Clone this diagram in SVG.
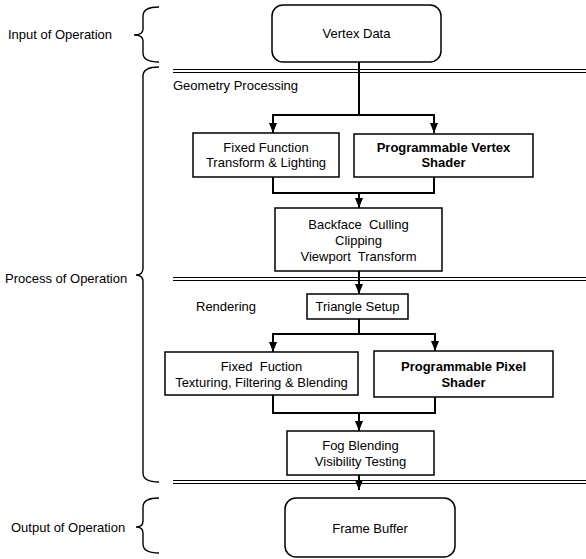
<svg xmlns="http://www.w3.org/2000/svg" width="586" height="559" viewBox="0 0 586 559">
<defs>
<marker id="ah" markerUnits="userSpaceOnUse" markerWidth="10" markerHeight="10" refX="10" refY="4" orient="auto">
<path d="M0,0 L10,4 L0,8 Z" fill="#000"/>
</marker>
<style>
text{font-family:"Liberation Sans",Arial,sans-serif;font-size:13px;fill:#000}
.b{font-weight:bold}
.c{text-anchor:middle}
.box{fill:#fff;stroke:#000;stroke-width:1.5}
.conn{fill:none;stroke:#000;stroke-width:2}
.sep{stroke:#000;stroke-width:1;fill:none}
.brace{fill:none;stroke:#000;stroke-width:1.4}
</style>
</defs>
<rect width="586" height="559" fill="#fff"/>

<g id="separators">
<line class="sep" x1="173" y1="69.5" x2="586" y2="69.5"/>
<line class="sep" x1="173" y1="72.5" x2="586" y2="72.5"/>
<line class="sep" x1="173" y1="277.5" x2="586" y2="277.5"/>
<line class="sep" x1="173" y1="280.5" x2="586" y2="280.5"/>
<line class="sep" x1="173" y1="480.5" x2="586" y2="480.5"/>
<line class="sep" x1="173" y1="483.5" x2="586" y2="483.5"/>
</g>

<g id="brackets">
<path class="brace" d="M159,7 Q143,7 143,16 L143,29 Q143,35 134,35 Q143,35 143,41 L143,53 Q143,62 159,62"/>
<path class="brace" d="M159,67 Q143,67 143,76 L143,268 Q143,275 136,275 Q143,275 143,282 L143,473 Q143,482 159,482"/>
<path class="brace" d="M159,498 Q143,498 143,507 L143,521 Q143,527 136,527 Q143,527 143,533 L143,544 Q143,553 159,553"/>
<text x="8" y="39">Input of Operation</text>
<text x="5" y="283">Process of Operation</text>
<text x="11" y="532">Output of Operation</text>
<text x="173" y="90">Geometry Processing</text>
<text x="196" y="311">Rendering</text>
</g>

<g id="connectors">
<path class="conn" d="M359,62 V115"/>
<path class="conn" d="M273,115 H434"/>
<path class="conn" d="M273,114 V133" marker-end="url(#ah)"/>
<path class="conn" d="M434,114 V133" marker-end="url(#ah)"/>
<path class="conn" d="M273,177 V193 H434 V177"/>
<path class="conn" d="M359,193 V208" marker-end="url(#ah)"/>
<path class="conn" d="M359,271 V294" marker-end="url(#ah)"/>
<path class="conn" d="M359,319 V334"/>
<path class="conn" d="M273,334 H435"/>
<path class="conn" d="M273,333 V352" marker-end="url(#ah)"/>
<path class="conn" d="M435,333 V351" marker-end="url(#ah)"/>
<path class="conn" d="M273,395 V413 H435 V397"/>
<path class="conn" d="M359,413 V431" marker-end="url(#ah)"/>
<path class="conn" d="M359,475 V490" marker-end="url(#ah)"/>
</g>

<g id="vertex-data">
<rect class="box" x="272" y="5" width="169" height="57" rx="11"/>
<text class="c" x="356.5" y="38">Vertex Data</text>
</g>

<g id="fixed-function-tl">
<rect class="box" x="193" y="133" width="146" height="44"/>
<text class="c" x="266" y="152">Fixed Function</text>
<text class="c" x="266" y="167">Transform &amp; Lighting</text>
</g>

<g id="programmable-vertex-shader">
<rect class="box" x="354" y="134" width="179" height="43"/>
<text class="c b" x="443.5" y="152">Programmable Vertex</text>
<text class="c b" x="443.5" y="167">Shader</text>
</g>

<g id="backface">
<rect class="box" x="275" y="208" width="167" height="63"/>
<text class="c" x="358.5" y="229" xml:space="preserve">Backface  Culling</text>
<text class="c" x="358.5" y="245">Clipping</text>
<text class="c" x="358.5" y="261" xml:space="preserve">Viewport  Transform</text>
</g>

<g id="triangle-setup">
<rect class="box" x="307" y="294" width="101" height="25"/>
<text class="c" x="357.5" y="311">Triangle Setup</text>
</g>

<g id="fixed-fuction-tfb">
<rect class="box" x="165" y="352" width="193" height="43"/>
<text class="c" x="261.5" y="371" xml:space="preserve">Fixed  Fuction</text>
<text class="c" x="261.5" y="387">Texturing, Filtering &amp; Blending</text>
</g>

<g id="programmable-pixel-shader">
<rect class="box" x="374" y="351" width="179" height="46"/>
<text class="c b" x="463.5" y="371">Programmable Pixel</text>
<text class="c b" x="463.5" y="387">Shader</text>
</g>

<g id="fog-blending">
<rect class="box" x="287" y="431" width="147" height="44"/>
<text class="c" x="360.5" y="450">Fog Blending</text>
<text class="c" x="360.5" y="466">Visibility Testing</text>
</g>

<g id="frame-buffer">
<rect class="box" x="285" y="498" width="170" height="59" rx="11"/>
<text class="c" x="370" y="533">Frame Buffer</text>
</g>
</svg>
